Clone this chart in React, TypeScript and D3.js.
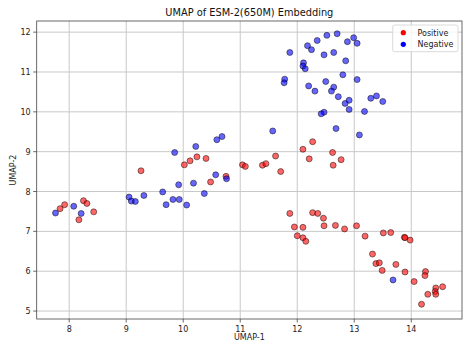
import React from "react";
import * as d3 from "d3";

const positiveX = [7.84, 7.92, 8.17, 8.25, 8.31, 8.43, 9.26, 10.02, 10.12, 10.24, 10.40, 10.48, 10.75, 11.04, 11.09, 11.39, 11.45, 11.62, 11.71, 12.27, 12.10, 12.21, 12.62, 12.77, 12.63, 11.87, 11.95, 12.10, 12.00, 12.10, 12.15, 12.27, 12.36, 12.46, 12.47, 12.67, 12.83, 13.04, 13.19, 13.32, 13.38, 13.44, 13.49, 13.51, 13.64, 13.73, 13.88, 13.89, 13.98, 13.89, 14.05, 14.25, 14.24, 14.43, 14.55, 14.42, 14.43, 14.29, 14.18];
const positiveY = [7.57, 7.67, 7.29, 7.77, 7.70, 7.49, 8.52, 8.67, 8.77, 8.87, 8.83, 8.24, 8.38, 8.67, 8.63, 8.66, 8.70, 8.89, 8.50, 9.25, 9.06, 8.82, 8.98, 8.80, 8.66, 7.45, 7.11, 7.10, 6.89, 6.84, 6.75, 7.47, 7.45, 7.33, 7.14, 7.15, 7.06, 7.14, 6.88, 6.43, 6.19, 6.21, 6.02, 6.96, 6.97, 6.17, 6.85, 6.84, 6.78, 5.98, 5.74, 5.99, 5.89, 5.58, 5.61, 5.49, 5.42, 5.42, 5.17];

const negativeX = [7.76, 8.08, 8.21, 9.05, 9.09, 9.16, 9.31, 9.64, 9.70, 9.82, 9.93, 9.92, 10.06, 10.18, 10.37, 10.57, 10.76, 9.85, 10.22, 10.59, 10.68, 11.57, 11.78, 11.77, 11.87, 12.18, 12.25, 12.35, 12.52, 12.70, 12.88, 12.99, 13.05, 12.47, 12.64, 12.85, 12.11, 12.10, 12.14, 12.80, 13.05, 12.20, 12.31, 12.50, 12.64, 12.60, 12.72, 12.91, 12.84, 12.91, 13.29, 13.39, 13.50, 13.18, 12.47, 12.42, 12.68, 13.09, 13.68];
const negativeY = [7.46, 7.63, 7.45, 7.86, 7.76, 7.75, 7.90, 7.99, 7.67, 7.80, 7.80, 8.17, 7.66, 8.21, 7.95, 8.42, 8.32, 8.98, 9.13, 9.30, 9.38, 9.52, 10.82, 10.73, 11.49, 11.66, 11.56, 11.79, 11.92, 11.96, 11.76, 11.86, 11.72, 11.43, 11.49, 11.28, 11.23, 11.15, 11.08, 10.93, 10.81, 10.65, 10.52, 10.76, 10.62, 10.52, 10.38, 10.29, 10.21, 10.06, 10.34, 10.40, 10.26, 10.01, 9.99, 9.95, 9.58, 9.42, 5.78];

const xTicks = [8, 9, 10, 11, 12, 13, 14];
const yTicks = [5, 6, 7, 8, 9, 10, 11, 12];
const legendLabels = ["Positive", "Negative"];
const legendColors = ["red", "blue"];

const W = 471;
const H = 353;
const left = 36.7, right = 462, top = 21, bottom = 319;
const FONT = "DejaVu Sans, sans-serif";

export default function App() {
  const x = d3.scaleLinear().domain([7.43, 14.89]).range([left, right]);
  const y = d3.scaleLinear().domain([4.8, 12.28]).range([bottom, top]);

  const pos = positiveX.map((v, i) => ({ x: v, y: positiveY[i] }));
  const neg = negativeX.map((v, i) => ({ x: v, y: negativeY[i] }));

  return (
    <svg width={W} height={H} style={{ position: "absolute", left: 0, top: 0, background: "white" }} fontFamily={FONT}>
      <rect x={0} y={0} width={W} height={H} fill="white" />
      {/* grid */}
      {xTicks.map((t) => (
        <line key={"gx" + t} x1={x(t)} x2={x(t)} y1={top} y2={bottom} stroke="#c8c8c8" strokeWidth={1} />
      ))}
      {yTicks.map((t) => (
        <line key={"gy" + t} x1={left} x2={right} y1={y(t)} y2={y(t)} stroke="#c8c8c8" strokeWidth={1} />
      ))}
      {/* points */}
      {pos.map((p, i) => (
        <circle key={"p" + i} cx={x(p.x)} cy={y(p.y)} r={3} fill="red" fillOpacity={0.6} stroke="black" strokeOpacity={0.6} strokeWidth={0.8} />
      ))}
      {neg.map((p, i) => (
        <circle key={"n" + i} cx={x(p.x)} cy={y(p.y)} r={3} fill="blue" fillOpacity={0.6} stroke="black" strokeOpacity={0.6} strokeWidth={0.8} />
      ))}
      {/* frame */}
      <rect x={left} y={top} width={right - left} height={bottom - top} fill="none" stroke="#444" strokeWidth={0.8} />
      {/* ticks */}
      {xTicks.map((t) => (
        <g key={"tx" + t}>
          <line x1={x(t)} x2={x(t)} y1={bottom} y2={bottom + 3.5} stroke="#444" strokeWidth={0.8} />
          <text x={x(t)} y={bottom + 12.5} fontSize={8} textAnchor="middle" fill="#222">{t}</text>
        </g>
      ))}
      {yTicks.map((t) => (
        <g key={"ty" + t}>
          <line x1={left - 3.5} x2={left} y1={y(t)} y2={y(t)} stroke="#444" strokeWidth={0.8} />
          <text x={left - 6} y={y(t) + 3} fontSize={8} textAnchor="end" fill="#222">{t}</text>
        </g>
      ))}
      {/* labels */}
      <text x={(left + right) / 2} y={16} fontSize={9.8} textAnchor="middle" fill="#111">UMAP of ESM-2(650M) Embedding</text>
      <text x={(left + right) / 2} y={339.5} fontSize={8} textAnchor="middle" fill="#222">UMAP-1</text>
      <text transform={`translate(15.5, ${(top + bottom) / 2}) rotate(-90)`} fontSize={8} textAnchor="middle" fill="#222">UMAP-2</text>
      {/* legend */}
      <rect x={392.7} y={25} width={65.3} height={26.7} rx={2} fill="white" fillOpacity={0.8} stroke="#d0d0d0" strokeWidth={0.8} />
      {legendLabels.map((l, i) => (
        <g key={l}>
          <circle cx={403.3} cy={32.7 + i * 11.6} r={2.6} fill={legendColors[i]} />
          <text x={417.5} y={35.6 + i * 11.6} fontSize={8} fill="#222">{l}</text>
        </g>
      ))}
    </svg>
  );
}
